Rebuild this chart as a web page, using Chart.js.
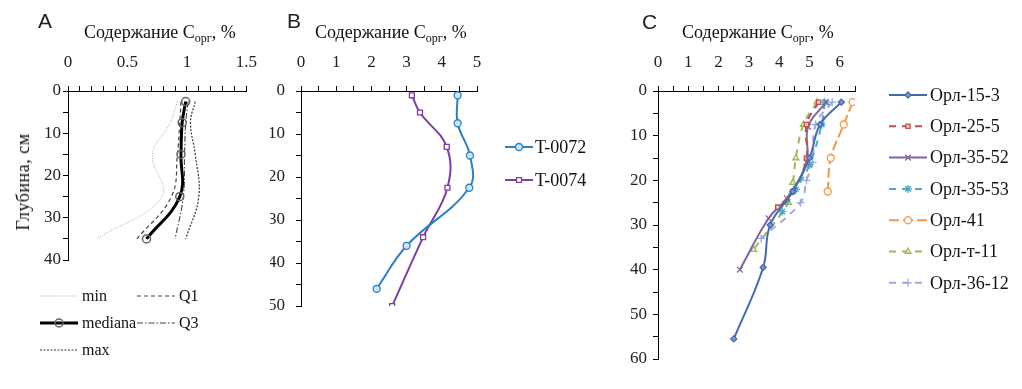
<!DOCTYPE html>
<html lang="ru">
<head>
<meta charset="UTF-8">
<title>Содержание Сорг по глубине</title>
<style>
  body { margin: 0; background: #fff; }
  #wrap { position: relative; width: 1022px; height: 389px; overflow: hidden; font-family: "Liberation Serif", serif; }
  .box { position: absolute; top: 0; height: 389px; }
  .lbl { position: absolute; font-family: "Liberation Sans", Arial, sans-serif; font-size: 21px; line-height: 1; color: #222; }
  .ttl { position: absolute; font-size: 18px; line-height: 1; color: #111; white-space: nowrap; }
  .ttl sub { font-size: 12px; vertical-align: -4px; line-height: 0; }
  .ytl { position: absolute; font-size: 18px; line-height: 1; color: #111; white-space: nowrap;
         transform: translate(-50%, -50%) rotate(-90deg); letter-spacing: 0.5px; }
</style>
</head>
<body>
<div id="wrap">
  <div class="box" style="left:0; width:270px;"><canvas id="chartA"></canvas></div>
  <div class="box" style="left:270px; width:340px;"><canvas id="chartB"></canvas></div>
  <div class="box" style="left:620px; width:402px;"><canvas id="chartC"></canvas></div>

  <div class="lbl" style="left:38px; top:10px;">A</div>
  <div class="lbl" style="left:287px; top:10px;">B</div>
  <div class="lbl" style="left:642px; top:11px;">C</div>
  <div class="ttl" style="left:84px; top:23px;">Содержание C<sub>орг</sub>, %</div>
  <div class="ttl" style="left:315px; top:23px;">Содержание C<sub>орг</sub>, %</div>
  <div class="ttl" style="left:682px; top:23px;">Содержание C<sub>орг</sub>, %</div>
  <div class="ytl" style="left:23px; top:182px;">Глубина, см</div>
</div>

<script src="https://cdn.jsdelivr.net/npm/chart.js"></script>
<script>
// ---- A: статистика по глубине ----
const depthA = [2.5, 7.5, 15, 25, 35];
const minA = [0.92, 0.86, 0.71, 0.79, 0.24];
const q1A = [0.95, 0.94, 0.92, 0.87, 0.58];
const medA = [0.99, 0.96, 0.95, 0.94, 0.66];
const q3A = [1.01, 0.99, 0.98, 0.97, 0.90];
const maxA = [1.07, 1.03, 1.07, 1.10, 0.99];
const labelsA = ['min', 'Q1', 'mediana', 'Q3', 'max'];

// ---- B ----
const depthT72 = [1, 7.5, 15, 22.5, 36, 46];
const valT72 = [4.45, 4.45, 4.8, 4.78, 3.0, 2.15];
const depthT74 = [1, 5, 13, 22.5, 34, 50];
const valT74 = [3.15, 3.38, 4.14, 4.16, 3.47, 2.59];
const labelsB = ['T-0072', 'T-0074'];

// ---- C ----
const d153 = [2.5, 7.5, 15, 22.5, 30, 39.5, 55.5];
const v153 = [6.05, 5.35, 5.0, 4.45, 3.7, 3.47, 2.5];
const d255 = [2.5, 7.5, 15, 22.5, 26];
const v255 = [5.3, 4.9, 4.9, 4.45, 3.95];
const d3552 = [2.5, 8, 16, 24, 28.5, 40];
const v3552 = [5.55, 4.95, 4.9, 4.25, 3.65, 2.7];
const d3553 = [2.5, 7.5, 16.5, 22, 27];
const v3553 = [5.5, 5.4, 5.0, 4.55, 4.1];
const d41 = [2.5, 7.5, 15, 22.5];
const v41 = [6.42, 6.13, 5.7, 5.6];
const dT11 = [2.5, 7.5, 15, 20.5, 25, 35.5];
const vT11 = [5.25, 4.8, 4.55, 4.45, 4.3, 3.15];
const d3612 = [2.5, 7.5, 16, 20, 25, 33];
const v3612 = [5.75, 5.2, 5.1, 4.9, 4.7, 3.4];
const labelsC = ['Орл-15-3', 'Орл-25-5', 'Орл-35-52', 'Орл-35-53', 'Орл-41', 'Орл-т-11', 'Орл-36-12'];

Chart.defaults.font.family = '"Liberation Serif", serif';
Chart.defaults.color = '#222';

const pts = (xs, ys) => xs.map((x, i) => ({ x: x, y: ys[i] }));
const near = (v, s) => Math.abs(v / s - Math.round(v / s)) < 1e-6;

// легенда: линия + маркер + подпись, раскладка по строкам
const lineLegend = {
    id: 'lineLegend',
    afterDraw(chart, args, o) {
        const ctx = chart.ctx;
        chart.data.datasets.forEach((ds, i) => {
            const x = o.x + (i % o.cols) * o.colW;
            const y = o.y + Math.floor(i / o.cols) * o.rowH;
            ctx.save();
            ctx.strokeStyle = ds.borderColor;
            ctx.lineWidth = ds.borderWidth;
            ctx.setLineDash(ds.borderDash || []);
            ctx.beginPath();
            ctx.moveTo(x, y);
            ctx.lineTo(x + o.lineW, y);
            ctx.stroke();
            ctx.setLineDash([]);
            if (ds.pointRadius > 0) {
                ctx.fillStyle = ds.pointBackgroundColor;
                ctx.strokeStyle = ds.pointBorderColor;
                ctx.lineWidth = ds.pointBorderWidth;
                Chart.helpers.drawPoint(ctx, { pointStyle: ds.pointStyle, radius: ds.pointRadius, borderWidth: ds.pointBorderWidth, rotation: 0 }, x + o.lineW / 2, y);
            }
            ctx.fillStyle = '#111';
            ctx.font = o.font;
            ctx.textBaseline = 'middle';
            ctx.fillText(ds.label, x + o.lineW + o.gap, y + 1);
            ctx.restore();
        });
    }
};

function scales(xMax, xStep, xLabel, yMax, leftW, yPad) {
    const axisGrid = { drawOnChartArea: false, drawTicks: true, tickLength: 5, color: '#000', tickColor: '#000' };
    return {
        x: {
            type: 'linear', position: 'top', min: 0, max: xMax,
            ticks: { stepSize: xStep, autoSkip: false, maxRotation: 0, padding: 13, color: '#222',
                     font: { size: 17 }, callback: xLabel },
            grid: axisGrid,
            border: { display: true, color: '#000', width: 1 },
            afterFit: s => { s.height = 91; }
        },
        y: {
            type: 'linear', position: 'left', reverse: true, min: 0, max: yMax,
            ticks: { stepSize: 5, autoSkip: false, padding: yPad, color: '#222', font: { size: 17 },
                     callback: v => near(v, 10) ? String(Math.round(v)) : '' },
            grid: axisGrid,
            border: { display: true, color: '#000', width: 1 },
            afterFit: s => { s.width = leftW; }
        }
    };
}

function baseOptions(sc, pad, legend) {
    return {
        responsive: true, maintainAspectRatio: false, animation: false, devicePixelRatio: 1,
        layout: { padding: pad },
        scales: sc,
        elements: { line: { tension: 0.4 } },
        plugins: { legend: { display: false }, tooltip: { enabled: false }, lineLegend: legend }
    };
}

function line(label, xs, ys, color, width, dash, style, radius, fill) {
    return {
        label: label, data: pts(xs, ys), showLine: true,
        borderColor: color, borderWidth: width, borderDash: dash,
        pointStyle: style || 'circle', pointRadius: radius || 0, pointHoverRadius: radius || 0,
        pointBorderColor: color, pointBackgroundColor: fill || 'rgba(255,255,255,0)', pointBorderWidth: 1.3
    };
}

// ---- A ----
const dsA = [
    line(labelsA[0], minA, depthA, '#a8a8a8', 1, [1, 1.5]),
    line(labelsA[1], q1A, depthA, '#444', 1.2, [4, 3]),
    line(labelsA[2], medA, depthA, '#000', 3, [], 'circle', 4, 'rgba(255,255,255,0)'),
    line(labelsA[3], q3A, depthA, '#444', 1.1, [6, 2, 1.5, 2]),
    line(labelsA[4], maxA, depthA, '#333', 1.2, [2, 1.5])
];
dsA[2].pointBorderColor = '#666';
dsA[2].pointBorderWidth = 1.5;
dsA[2].order = -1;
new Chart(document.getElementById('chartA'), {
    type: 'scatter',
    data: { datasets: dsA },
    options: baseOptions(
        scales(1.5, 0.1, v => near(v, 0.5) ? String(+v.toFixed(1)) : '', 40, 68, 2),
        { left: 0, right: 22, top: 0, bottom: 129 },
        { x: 40, y: 296, rowH: 27, colW: 97, cols: 2, lineW: 38, gap: 4, font: '16px "Liberation Serif"' }
    ),
    plugins: [lineLegend]
});

// ---- B ----
new Chart(document.getElementById('chartB'), {
    type: 'scatter',
    data: { datasets: [
        line(labelsB[0], valT72, depthT72, '#2a80c8', 2, [], 'circle', 3.5, '#cfe4f6'),
        line(labelsB[1], valT74, depthT74, '#7d3fa3', 2, [], 'rect', 3.5, '#fff')
    ] },
    options: baseOptions(
        scales(5, 0.5, v => near(v, 1) ? String(Math.round(v)) : '', 50, 31, 11),
        { left: 0, right: 133, top: 0, bottom: 83 },
        { x: 235, y: 147, rowH: 33, colW: 0, cols: 1, lineW: 28, gap: 2, font: '18px "Liberation Serif"' }
    ),
    plugins: [lineLegend]
});

// ---- C ----
new Chart(document.getElementById('chartC'), {
    type: 'scatter',
    data: { datasets: [
        line(labelsC[0], v153, d153, '#4668b0', 2, [], 'rectRot', 3, '#7f9ad0'),
        line(labelsC[1], v255, d255, '#c0504d', 2, [7, 6], 'rect', 3, '#f2c9c8'),
        line(labelsC[2], v3552, d3552, '#8064a2', 2, [], 'crossRot', 4),
        line(labelsC[3], v3553, d3553, '#4bacc6', 2, [7, 6], 'star', 4),
        line(labelsC[4], v41, d41, '#f79646', 2, [10, 4], 'circle', 3.5, '#fff'),
        line(labelsC[5], vT11, dT11, '#9bbb59', 2, [7, 6], 'triangle', 3.5, '#e3eccb'),
        line(labelsC[6], v3612, d3612, '#9ea8e2', 2, [7, 6], 'cross', 4)
    ] },
    options: baseOptions(
        scales(6.5, 0.5, v => near(v, 1) && v <= 6 ? String(Math.round(v)) : '', 60, 38, 6),
        { left: 0, right: 167, top: 0, bottom: 30 },
        { x: 269, y: 95, rowH: 31.3, colW: 0, cols: 1, lineW: 38, gap: 3, font: '18px "Liberation Serif"' }
    ),
    plugins: [lineLegend]
});
</script>
</body>
</html>
